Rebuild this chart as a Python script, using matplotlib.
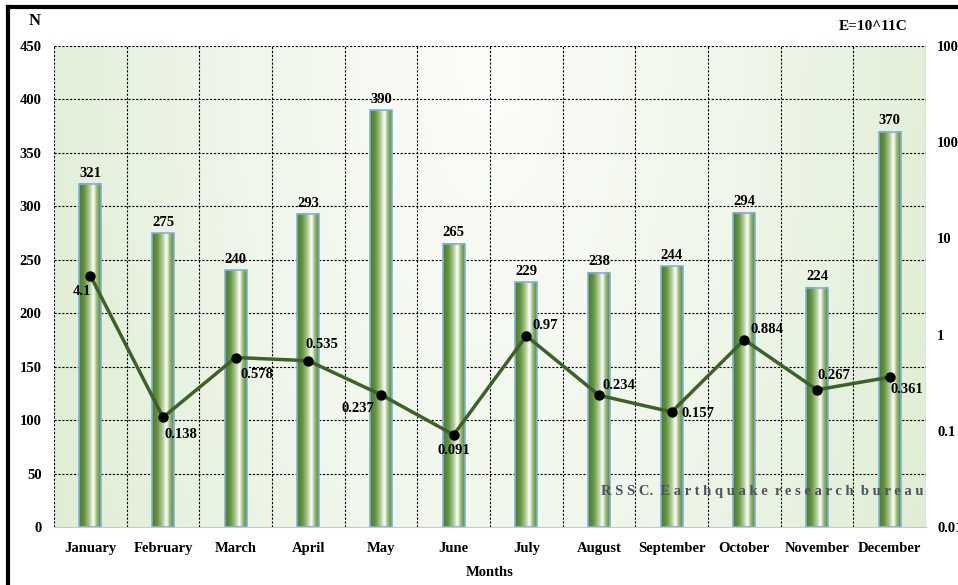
import matplotlib
matplotlib.use("Agg")
import matplotlib.pyplot as plt
import numpy as np
from matplotlib.colors import LinearSegmentedColormap
from matplotlib.lines import Line2D

plt.rcParams['font.family'] = ['Liberation Serif', 'DejaVu Serif']
plt.rcParams['font.weight'] = 'bold'

months = ["January", "February", "March", "April", "May", "June", "July",
          "August", "September", "October", "November", "December"]
counts = [321, 275, 240, 293, 390, 265, 229, 238, 244, 294, 224, 370]
energy = [4.1, 0.138, 0.578, 0.535, 0.237, 0.091, 0.97, 0.234, 0.157, 0.884, 0.267, 0.361]
energy_labels = ["4.1", "0.138", "0.578", "0.535", "0.237", "0.091", "0.97",
                 "0.234", "0.157", "0.884", "0.267", "0.361"]
# where each energy label sits relative to its dot (pixels)
label_offsets = [(-8, -16), (18, -17), (21, -17), (14, 16), (-23, -14), (0, -16),
                 (19, 10), (20, 10), (26, -2), (23, 10), (17, 14), (17, -12)]

fig = plt.figure(figsize=(9.58, 5.85), dpi=100)
ax = fig.add_axes([0.0564, 0.0991, 0.9102, 0.8223])

x = np.arange(len(months))

# background gradient
gx = np.linspace(-1, 1, 200)
gy = np.linspace(0, 1, 100)
GX, GY = np.meshgrid(gx, gy)
bg = np.sqrt((GX * 0.9) ** 2 + ((1 - GY) * 0.45) ** 2)
bg_cmap = LinearSegmentedColormap.from_list("bg", ["#fbfdf9", "#eff6ea", "#deedd2"])
ax.imshow(bg, extent=(-0.5, len(months) - 0.5, 0, 450), origin="lower",
          aspect="auto", cmap=bg_cmap, zorder=0, vmin=0, vmax=1.05)

# dashed grid
dash = (0, (2, 1.5))
ax.hlines(np.arange(50, 451, 50), -0.5, len(months) - 0.5, colors="black",
          linestyles=dash, linewidth=0.8, zorder=1)
ax.vlines(np.arange(-0.5, len(months), 1), 0, 450, colors="black",
          linestyles=dash, linewidth=0.8, zorder=1)

# bars with cylinder-like shading
bar_cmap = LinearSegmentedColormap.from_list(
    "bar", [(0.0, "#4c7c29"), (0.25, "#669540"), (0.5, "#b8d0a0"),
            (0.66, "#ffffff"), (0.82, "#98b97a"), (1.0, "#5a8834")])
grad = np.linspace(0, 1, 64).reshape(1, -1)
w = 0.3
bars = ax.bar(x, counts, width=w, facecolor="none", edgecolor="#7fb2dc",
              linewidth=1.2, zorder=3)
for b in bars:
    x0 = b.get_x()
    ax.imshow(grad, extent=(x0, x0 + w, 0, b.get_height()), aspect="auto",
              cmap=bar_cmap, zorder=2)
for xi, c in zip(x, counts):
    ax.text(xi, c + 4, str(c), ha="center", va="bottom", fontsize=10.5,
            fontweight="bold", zorder=5)

ax.set_xlim(-0.5, len(months) - 0.5)
ax.set_ylim(0, 450)
ax.set_yticks(np.arange(0, 451, 50))
ax.set_xticks(x)
ax.set_xticklabels(months)
ax.tick_params(axis="both", which="both", length=0, labelsize=10.5)
ax.tick_params(axis="y", pad=9)
ax.tick_params(axis="x", pad=11)
for s in ["top", "left", "right"]:
    ax.spines[s].set_visible(False)
ax.spines["bottom"].set_color("#c8c8c8")
ax.set_xlabel("Months", fontsize=10.5, fontweight="bold", labelpad=8)

# energy line on log axis
ax2 = ax.twinx()
ax2.set_yscale("log")
ax2.set_ylim(0.01, 1000)
ax2.set_yticks([0.01, 0.1, 1, 10, 100, 1000])
ax2.set_yticklabels(["0.01", "0.1", "1", "10", "100", "1000"])
ax2.minorticks_off()
ax2.tick_params(axis="y", length=0, labelsize=10.5, pad=8)
for s in ax2.spines.values():
    s.set_visible(False)
ax2.plot(x, energy, color="#3d6128", linewidth=2.5, marker="o",
         markersize=6.5, markerfacecolor="black", markeredgecolor="black", zorder=4)
for xi, e, lab, off in zip(x, energy, energy_labels, label_offsets):
    ax2.annotate(lab, (xi, e), xytext=off, textcoords="offset pixels",
                 ha="center", va="center", fontsize=10.5, fontweight="bold")

ax2.text(0.9975, 0.073, "R S S C.  E a r t h q u a k e  r e s e a r c h  b u r e a u",
         transform=ax2.transAxes, ha="right", va="center", fontsize=10.5,
         fontweight="bold", color="#4e525e")

fig.text(35 / 958, 1 - 21 / 585, "N", ha="center", va="center", fontsize=12, fontweight="bold")
fig.text(908 / 958, 1 - 27 / 585, "E=10^11C", ha="right", va="center", fontsize=11, fontweight="bold")

# frame border on the left and top
fig.add_artist(Line2D([8 / 958, 8 / 958], [0, 1 - 7 / 585], transform=fig.transFigure,
                      color="black", linewidth=3))
fig.add_artist(Line2D([8 / 958, 1], [1 - 7 / 585, 1 - 7 / 585], transform=fig.transFigure,
                      color="black", linewidth=3))

fig.savefig("out.png", dpi=100)
